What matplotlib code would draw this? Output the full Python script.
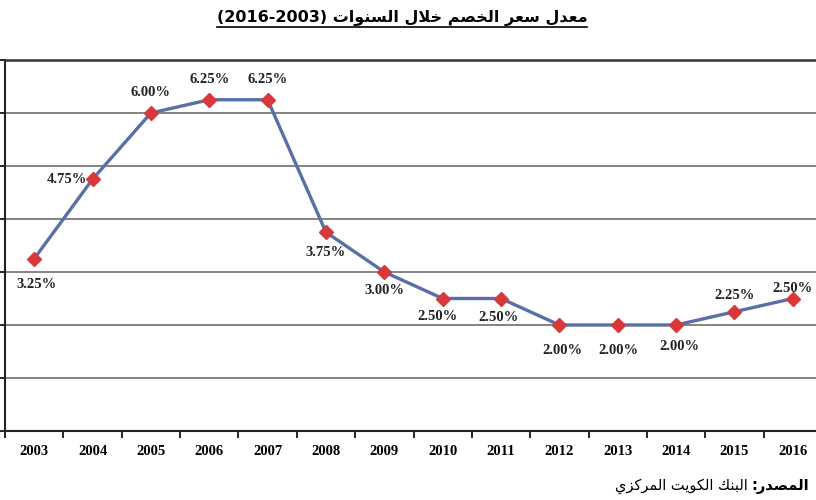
import matplotlib
matplotlib.use('Agg')
import matplotlib.pyplot as plt
from matplotlib.lines import Line2D

# data
years = ['2003', '2004', '2005', '2006', '2007', '2008', '2009', '2010',
         '2011', '2012', '2013', '2014', '2015', '2016']
rates = [3.25, 4.75, 6.00, 6.25, 6.25, 3.75, 3.00, 2.50, 2.50, 2.00, 2.00, 2.00, 2.25, 2.50]
labels = ['3.25%', '4.75%', '6.00%', '6.25%', '6.25%', '3.75%', '3.00%', '2.50%',
          '2.50%', '2.00%', '2.00%', '2.00%', '2.25%', '2.50%']
# where each value label sits relative to its point (pixels)
label_offsets = [(2, -26), (-26, 0), (0, 20), (0, 20), (0, 20), (0, -20), (0, -19), (-5, -18),
                 (-3, -19), (3, -26), (1, -26), (3, -22), (0, 16), (0, 10)]

title_ar = 'معدل سعر الخصم خلال السنوات'
title_years = '(2016-2003)'
source_word = 'المصدر'
source_text = 'البنك الكويت المركزي'

# simple arabic shaping (matplotlib draws no joined arabic on its own)
FORMS = {
    'ا': ('\uFE8D', '\uFE8E', None, None),
    'ب': ('\uFE8F', '\uFE90', '\uFE91', '\uFE92'),
    'ت': ('\uFE95', '\uFE96', '\uFE97', '\uFE98'),
    'خ': ('\uFEA5', '\uFEA6', '\uFEA7', '\uFEA8'),
    'د': ('\uFEA9', '\uFEAA', None, None),
    'ر': ('\uFEAD', '\uFEAE', None, None),
    'ز': ('\uFEAF', '\uFEB0', None, None),
    'س': ('\uFEB1', '\uFEB2', '\uFEB3', '\uFEB4'),
    'ص': ('\uFEB9', '\uFEBA', '\uFEBB', '\uFEBC'),
    'ع': ('\uFEC9', '\uFECA', '\uFECB', '\uFECC'),
    'ك': ('\uFED9', '\uFEDA', '\uFEDB', '\uFEDC'),
    'ل': ('\uFEDD', '\uFEDE', '\uFEDF', '\uFEE0'),
    'م': ('\uFEE1', '\uFEE2', '\uFEE3', '\uFEE4'),
    'ن': ('\uFEE5', '\uFEE6', '\uFEE7', '\uFEE8'),
    'و': ('\uFEED', '\uFEEE', None, None),
    'ي': ('\uFEF1', '\uFEF2', '\uFEF3', '\uFEF4'),
}


def shape_word(word):
    # merge lam + alef into one unit
    units = []
    i = 0
    while i < len(word):
        if word[i] == 'ل' and i + 1 < len(word) and word[i + 1] == 'ا':
            units.append('LA')
            i += 2
        else:
            units.append(word[i])
            i += 1

    def joins_forward(u):
        return u in FORMS and FORMS[u][2] is not None

    out = []
    for k, u in enumerate(units):
        prev_j = k > 0 and joins_forward(units[k - 1])
        if u == 'LA':
            out.append('\uFEFC' if prev_j else '\uFEFB')
            continue
        if u not in FORMS:
            out.append(u)
            continue
        next_j = joins_forward(u) and k + 1 < len(units) and (units[k + 1] in FORMS or units[k + 1] == 'LA')
        iso, fin, ini, med = FORMS[u]
        if prev_j and next_j:
            out.append(med)
        elif prev_j:
            out.append(fin)
        elif next_j:
            out.append(ini)
        else:
            out.append(iso)
    return ''.join(reversed(out))


def visual(text):
    words = text.split(' ')
    return ' '.join(shape_word(w) for w in reversed(words))


fig = plt.figure(figsize=(8.16, 5.0), dpi=100)
ax = fig.add_axes([5 / 816, 69 / 500, 817 / 816, 371 / 500])

x = list(range(len(years)))
ax.plot(x, rates, color='#5a6fa6', lw=2.4, marker='D', markersize=7.5,
        markerfacecolor='#d8383a', markeredgecolor='#d8383a', zorder=3)

for xi, yi, lab, off in zip(x, rates, labels, label_offsets):
    ax.annotate(lab, (xi, yi), xytext=off, textcoords='offset pixels',
                ha='center', va='center', fontsize=10.5, fontweight='bold',
                family='Liberation Serif', color='#222222')

ax.set_xlim(-0.5, len(years) - 0.5)
ax.set_ylim(0, 7)
ax.set_yticks(range(0, 8))
ax.set_yticklabels([])
ax.yaxis.grid(True, color='#7a7a7a', lw=1.3)
ax.set_axisbelow(True)

ax.set_xticks(x)
ax.set_xticklabels(years, fontsize=10.5, fontweight='bold', family='Liberation Serif')
ax.set_xticks([k - 0.5 for k in range(len(years) + 1)], minor=True)
ax.tick_params(axis='x', which='major', length=0, pad=10)
ax.tick_params(axis='x', which='minor', length=5, width=1.2, direction='out')
ax.tick_params(axis='y', length=5, width=1.2, direction='out')

ax.spines['right'].set_visible(False)
ax.spines['top'].set_color('#333333')
ax.spines['top'].set_linewidth(1.8)
for s in ['left', 'bottom']:
    ax.spines[s].set_color('#222222')
    ax.spines[s].set_linewidth(1.5)

# title with underline
title = fig.text(402 / 816, 1 - 18 / 500, title_years + ' ' + visual(title_ar),
                 ha='center', va='center', fontsize=11.5, fontweight='bold', family='DejaVu Sans')
fig.canvas.draw()
bb = title.get_window_extent()
fig.add_artist(Line2D([bb.x0 / 816, bb.x1 / 816], [(bb.y0 - 1) / 500, (bb.y0 - 1) / 500],
                      color='black', lw=1.2))

# source note at bottom right
fig.text(748 / 816, 1 - 486 / 500, visual(source_text), ha='right', va='center',
         fontsize=10.5, family='DejaVu Sans')
fig.text(751 / 816, 1 - 486 / 500, ':' + shape_word(source_word), ha='left', va='center',
         fontsize=10.5, fontweight='bold', family='DejaVu Sans')

fig.savefig('out.png', dpi=100)
